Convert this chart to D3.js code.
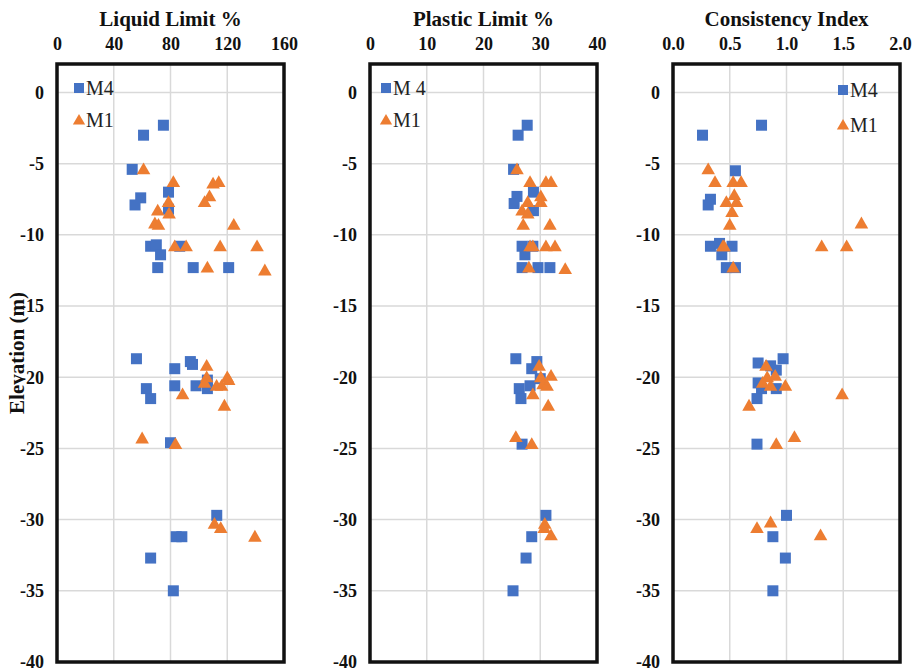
<!DOCTYPE html>
<html><head><meta charset="utf-8">
<script src="https://cdn.jsdelivr.net/npm/d3@7"></script>
<style>body{margin:0;background:#fff}svg{display:block}</style>
</head><body>
<svg id="c" width="919" height="671"></svg>
<script>
// ---------- DATA ----------
const panelTitles = ["Liquid Limit %", "Plastic Limit %", "Consistency Index"];
const xTicksLL = [0, 40, 80, 120, 160];
const xTicksPL = [0, 10, 20, 30, 40];
const xTicksCI = ["0.0", "0.5", "1.0", "1.5", "2.0"];
const yTicks = [0, -5, -10, -15, -20, -25, -30, -35, -40];
const legendM4 = ["M4", "M 4", "M4"];
const legendM1 = ["M1", "M1", "M1"];

// [value, elevation]
const llM4 = [[75,-2.3],[61,-3.0],[53,-5.4],[78.6,-7.0],[59,-7.4],[55,-7.9],[78.6,-8.2],[66,-10.8],[70,-10.7],[86.5,-10.8],[73,-11.4],[71,-12.3],[96,-12.3],[121,-12.3],
  [56,-18.7],[83,-19.4],[94,-18.9],[95.5,-19.1],[83,-20.6],[98,-20.6],[106,-20.2],[106,-20.8],[63,-20.8],[66,-21.5],[80,-24.6],
  [112.6,-29.7],[84,-31.2],[88,-31.2],[66,-32.7],[82,-35.0]];
const llM1 = [[61,-5.4],[82,-6.3],[110,-6.4],[114,-6.3],[107.5,-7.3],[104,-7.7],[78.6,-7.7],[71,-8.3],[79,-8.5],[69,-9.2],[71.5,-9.3],[124.6,-9.3],
  [83,-10.8],[91,-10.8],[115,-10.8],[141,-10.8],[106,-12.3],[146.5,-12.5],
  [105.5,-19.2],[105.5,-20.0],[104,-20.4],[120,-20.0],[121,-20.2],[112.5,-20.6],[116,-20.6],[88.5,-21.2],[118,-22.0],[60,-24.3],[83.5,-24.7],
  [111,-30.3],[115.4,-30.6],[139.5,-31.2]];
const plM4 = [[27.7,-2.3],[26.1,-3.0],[25.3,-5.4],[28.8,-7.0],[25.9,-7.3],[25.4,-7.8],[28.8,-8.3],[26.8,-10.8],[28.7,-10.8],[27.3,-11.4],[26.8,-12.3],[29.6,-12.3],[31.7,-12.3],
  [25.7,-18.7],[29.4,-18.9],[28.5,-19.4],[30.0,-20.1],[28.2,-20.6],[26.3,-20.8],[26.6,-21.5],[26.8,-24.7],
  [31.0,-29.7],[28.5,-31.2],[27.5,-32.7],[25.2,-35.0]];
const plM1 = [[25.9,-5.4],[28.2,-6.3],[31.0,-6.3],[31.9,-6.3],[30.1,-7.3],[30.1,-7.7],[27.8,-7.7],[26.8,-8.3],[27.8,-8.5],[27.0,-9.3],[31.7,-9.3],
  [28.2,-10.8],[28.7,-10.8],[31.0,-10.8],[32.6,-10.8],[28.0,-12.3],[34.4,-12.4],
  [29.8,-19.2],[30.1,-20.0],[31.9,-19.9],[30.5,-20.5],[31.2,-20.6],[28.7,-21.2],[31.4,-22.0],[25.7,-24.2],[28.5,-24.7],
  [30.8,-30.3],[30.7,-30.6],[31.9,-31.1]];
const ciM4 = [[0.78,-2.3],[0.26,-3.0],[0.55,-5.5],[0.33,-7.5],[0.31,-7.9],[0.33,-10.8],[0.41,-10.6],[0.52,-10.8],[0.43,-11.4],[0.47,-12.3],[0.55,-12.3],
  [0.75,-19.0],[0.86,-19.2],[0.97,-18.7],[0.91,-19.5],[0.75,-20.4],[0.78,-20.8],[0.91,-20.8],[0.74,-21.5],[0.74,-24.7],
  [1.00,-29.7],[0.88,-31.2],[0.99,-32.7],[0.88,-35.0]];
const ciM1 = [[0.31,-5.4],[0.37,-6.3],[0.53,-6.3],[0.60,-6.3],[0.54,-7.2],[0.47,-7.7],[0.56,-7.7],[0.52,-8.4],[0.50,-9.3],[1.66,-9.2],
  [0.44,-10.8],[0.45,-10.8],[1.31,-10.8],[1.53,-10.8],[0.53,-12.3],
  [0.82,-19.2],[0.83,-20.0],[0.90,-19.9],[0.79,-20.4],[0.86,-20.6],[0.99,-20.6],[1.49,-21.2],[0.67,-22.0],[1.07,-24.2],[0.91,-24.7],
  [0.86,-30.2],[0.74,-30.6],[1.30,-31.1]];

// ---------- LAYOUT ----------
const svg = d3.select("#c");
const blue = "#4472C4", orange = "#ED7D31";
const plotTop = 64, plotBottom = 662;
const y = d3.scaleLinear().domain([2, -40]).range([plotTop, plotBottom]);

const panels = [
  {x0:57, x1:284, dom:[0,160], ticks:xTicksLL, fmt:d=>d, m4:llM4, m1:llM1, leg:{x:79, y1:88, y2:120}},
  {x0:370, x1:597, dom:[0,40], ticks:xTicksPL, fmt:d=>d, m4:plM4, m1:plM1, leg:{x:386, y1:88, y2:120}},
  {x0:673, x1:900, dom:[0,2], ticks:xTicksCI.map(Number), fmt:d=>d.toFixed(1), m4:ciM4, m1:ciM1, leg:{x:843, y1:90, y2:125}}
];
const serif = "'Liberation Serif','Times New Roman',serif";

panels.forEach((p, i) => {
  const x = d3.scaleLinear().domain(p.dom).range([p.x0, p.x1]);
  const g = svg.append("g");
  // gridlines
  g.selectAll(".vg").data(p.ticks.slice(1, -1)).enter().append("line")
    .attr("x1", d=>x(d)).attr("x2", d=>x(d)).attr("y1", plotTop).attr("y2", plotBottom)
    .attr("stroke", "#d9d9d9").attr("stroke-width", 1.5);
  g.selectAll(".hg").data(yTicks.slice(0, -1)).enter().append("line")
    .attr("x1", p.x0).attr("x2", p.x1).attr("y1", d=>y(d)).attr("y2", d=>y(d))
    .attr("stroke", "#d9d9d9").attr("stroke-width", 1.5);
  // top axis
  const xa = d3.axisTop(x).tickValues(p.ticks).tickFormat(p.fmt).tickSize(0).tickPadding(0);
  const xg = g.append("g").attr("transform", `translate(0,50)`).call(xa);
  xg.select(".domain").remove();
  xg.attr("font-family", null);
  xg.selectAll("text").style("font-family", serif).style("font-weight", "bold").style("font-size", "18px").attr("fill", "#111").attr("dy", 0);
  // left axis
  const ya = d3.axisLeft(y).tickValues(yTicks).tickFormat(d=>d).tickSize(0).tickPadding(0);
  const yg = g.append("g").attr("transform", `translate(${p.x0 - 13},0)`).call(ya);
  yg.select(".domain").remove();
  yg.attr("font-family", null);
  yg.selectAll("text").style("font-family", serif).style("font-weight", "bold").style("font-size", "18px").attr("fill", "#111");
  // title
  g.append("text").attr("x", (p.x0 + p.x1) / 2).attr("y", 26).attr("text-anchor", "middle")
    .style("font-family", serif).attr("font-weight", "bold").attr("font-size", 21).attr("fill", "#111")
    .text(panelTitles[i]);
  // points
  const sq = 11;
  g.selectAll(".m4").data(p.m4).enter().append("rect")
    .attr("x", d=>x(d[0]) - sq/2).attr("y", d=>y(d[1]) - sq/2).attr("width", sq).attr("height", sq)
    .attr("fill", blue);
  const tri = d3.symbol().type(d3.symbolTriangle).size(80);
  g.selectAll(".m1").data(p.m1).enter().append("path")
    .attr("transform", d=>`translate(${x(d[0])},${y(d[1]) + 1})`).attr("d", tri).attr("fill", orange);
  // frame
  g.append("rect").attr("x", p.x0).attr("y", plotTop).attr("width", p.x1 - p.x0).attr("height", plotBottom - plotTop)
    .attr("fill", "none").attr("stroke", "#111").attr("stroke-width", 3.5);
  // legend
  g.append("rect").attr("x", p.leg.x - 5).attr("y", p.leg.y1 - 5).attr("width", 10).attr("height", 10).attr("fill", blue);
  g.append("text").attr("x", p.leg.x + 7).attr("y", p.leg.y1 + 7).style("font-family", serif).attr("font-size", 20).attr("fill", "#222").text(legendM4[i]);
  g.append("path").attr("transform", `translate(${p.leg.x},${p.leg.y2 + 1})`).attr("d", d3.symbol().type(d3.symbolTriangle).size(65)).attr("fill", orange);
  g.append("text").attr("x", p.leg.x + 7).attr("y", p.leg.y2 + 7).style("font-family", serif).attr("font-size", 20).attr("fill", "#222").text(legendM1[i]);
});

// y-axis title
svg.append("text").attr("transform", "translate(24,353) rotate(-90)").attr("text-anchor", "middle")
  .style("font-family", serif).attr("font-weight", "bold").attr("font-size", 21).attr("fill", "#111")
  .text("Elevation (m)");
</script>
</body></html>
